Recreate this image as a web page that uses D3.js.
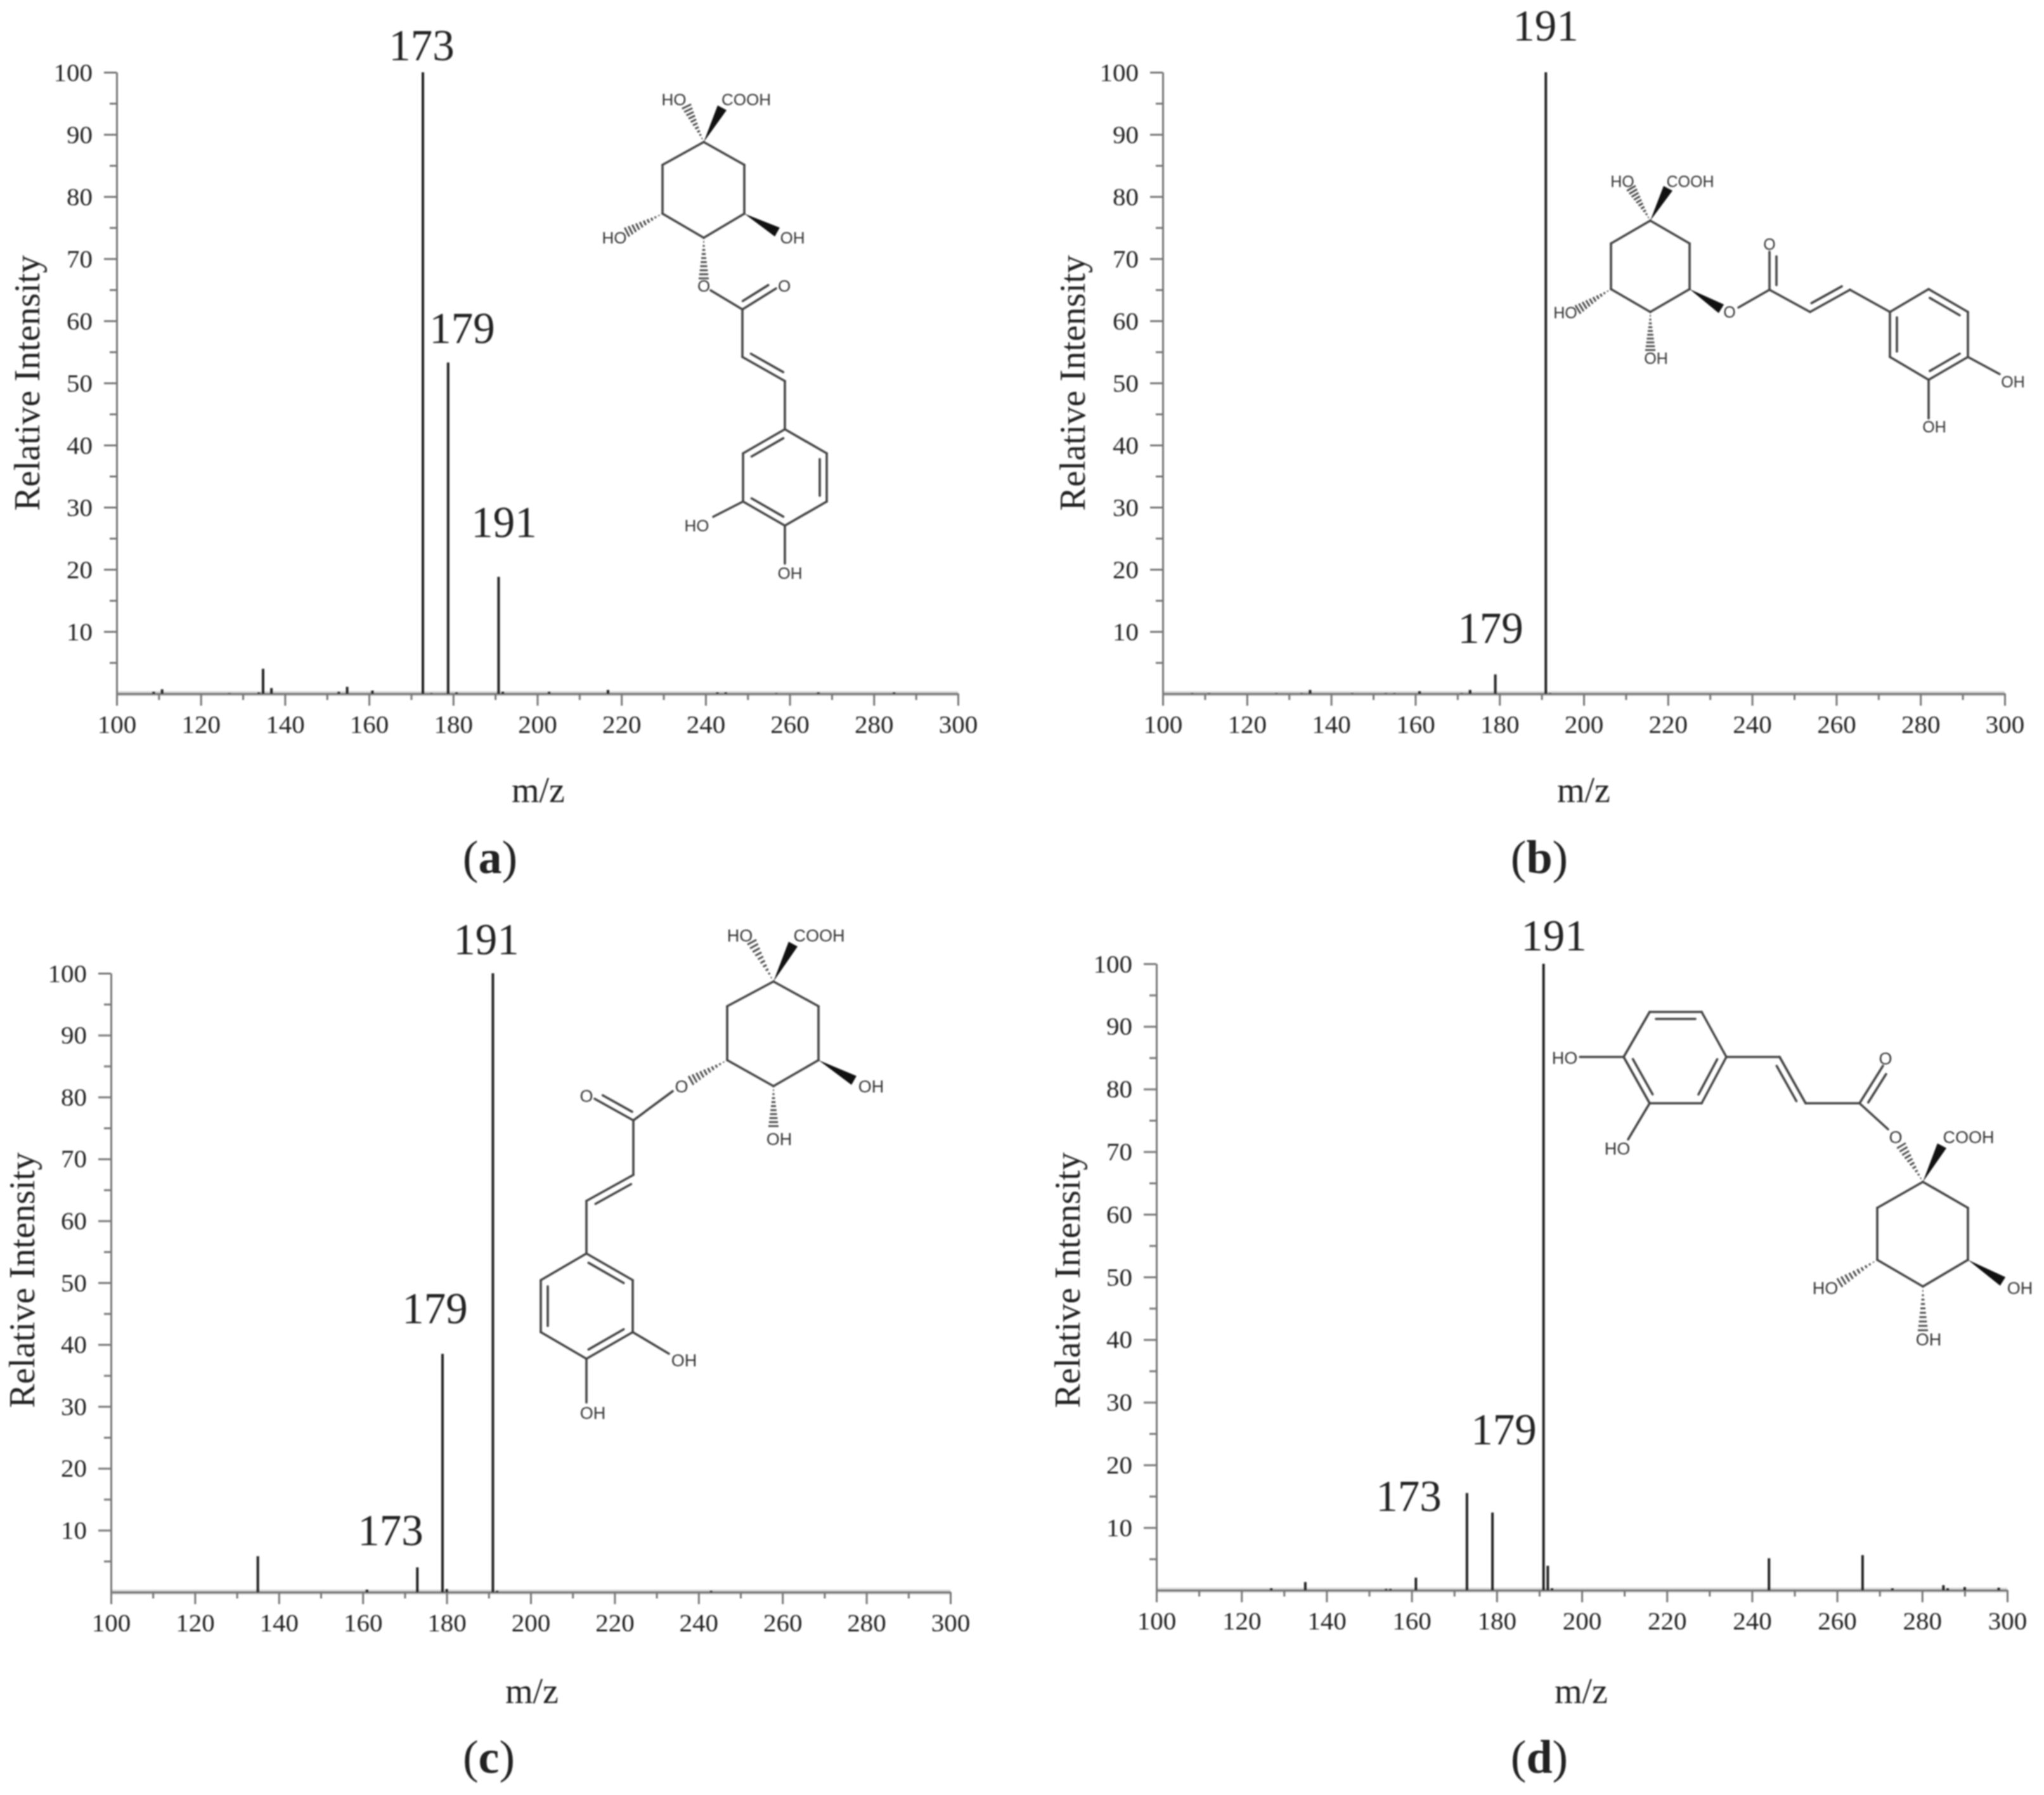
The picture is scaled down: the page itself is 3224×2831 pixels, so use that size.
<!DOCTYPE html>
<html>
<head>
<meta charset="utf-8">
<script src="https://cdn.jsdelivr.net/npm/d3@7"></script>
<style>
  body { margin: 0; background: #fff; }
  svg { display: block; filter: blur(0.9px); }
  text { font-family: "Liberation Serif", serif; fill: #222; }
  .mol text { font-family: "Liberation Sans", sans-serif; fill: #333; }
</style>
</head>
<body>
<svg id="chart" width="3224" height="2831"></svg>
<script>
// peak lists: [m/z, relative intensity]
var peaksA = [[108.8,0.3],[110.8,0.7],[126.8,0.1],[133.8,0.2],[134.8,4.0],[136.8,0.9],[152.8,0.3],[154.8,1.1],[160.8,0.5],
              [172.8,100],[174.8,0.1],[178.8,53.3],[180.8,0.2],[190.8,18.8],[191.8,0.3],[202.8,0.3],[216.8,0.6],[242.8,0.2],
              [244.8,0.2],[256.8,0.1],[266.8,0.2],[284.8,0.2]];
var peaksB = [[107,0.1],[111,0.1],[127,0.1],[133,0.1],[135,0.6],[145,0.1],[153,0.1],[155,0.1],[161,0.4],
              [171,0.1],[173,0.6],[179,3.1],[191,100],[192,0.1]];
var peaksC = [[135,5.8],[161,0.4],[173,4.0],[179,38.5],[180,0.5],[191,100],[192,0.2],[243,0.2]];
var peaksD = [[127,0.3],[135,1.3],[154,0.2],[155,0.2],[161,2.0],[173,15.5],[179,12.4],[191,100],[192,3.9],
              [193,0.3],[244,5.1],[266,5.6],[273,0.3],[285,0.8],[286,0.3],[290,0.5],[298,0.4]];

var xMajor = d3.range(100, 301, 20);
var xMinor = d3.range(110, 300, 20);
var yMajor = d3.range(10, 101, 10);
var yMinor = d3.range(5, 100, 10);

// panel frames, in page pixels
var panels = [
  {peaks: peaksA, x: [184, 1511], y: [1094, 114], xTitle: [849, 1248], yTitle: [45, 604], tag: "a", tagPos: [773, 1355],
   labels: [["173", 665, 72], ["179", 729, 518], ["191", 795, 824]]},
  {peaks: peaksB, x: [1834, 3162], y: [1094, 114], xTitle: [2498, 1248], yTitle: [1694, 604], tag: "b", tagPos: [2428, 1355],
   labels: [["191", 2438, 41], ["179", 2351, 991]]},
  {peaks: peaksC, x: [175, 1499], y: [2511, 1535], xTitle: [839, 2669], yTitle: [37, 2019], tag: "c", tagPos: [771, 2774],
   labels: [["191", 767, 1482], ["179", 686, 2064], ["173", 616, 2414]]},
  {peaks: peaksD, x: [1824, 3166], y: [2508, 1520], xTitle: [2494, 2669], yTitle: [1686, 2019], tag: "d", tagPos: [2428, 2774],
   labels: [["191", 2451, 1476], ["179", 2372, 2255], ["173", 2222, 2360]]}
];

// structures: bonds as x1,y1,x2,y2 in page pixels, doubles also carry the side the second line goes to
var molA = {
  size: 26,
  single: [[1110,224,1174,260],[1174,260,1174,337],[1174,337,1110,375],[1110,375,1045,337],[1045,337,1045,260],[1045,260,1110,224],
           [1121,458,1171,488],[1171,488,1171,563],[1238,601,1238,677],[1304,715,1238,677],[1304,791,1238,829],
           [1172,791,1172,715],[1125,815,1172,791],[1238,829,1238,889]],
  double: [[1171,488,1224,455,1160,450],[1171,563,1238,601,1240,560],[1238,677,1172,715,1238,753],
           [1304,715,1304,791,1238,753],[1238,829,1172,791,1238,753]],
  wedge: [[1110,224,1139,170],[1174,337,1226,366]],
  hash: [[1110,224,1083,168],[1045,337,989,366],[1110,375,1110,439]],
  text: [["HO",1063,157],["COOH",1177,157],["OH",1250,375],["HO",969,375],["O",1110,451],["O",1237,451],["HO",1099,829],["OH",1246,904]]
};
var molB = {
  size: 25,
  single: [[2603,348,2665,384],[2665,384,2665,456],[2665,456,2603,492],[2603,492,2541,456],[2541,456,2541,384],[2541,384,2603,348],
           [2742,485,2791,457],[2791,457,2855,492],[2918,457,2981,492],[2981,492,3042,456],[3104,492,3104,563],
           [3042,599,2981,563],[3104,563,3154,590],[3042,599,3042,660]],
  double: [[2791,457,2791,397,2815,420],[2855,492,2918,457,2860,450],[3042,456,3104,492,3042,525],
           [2981,492,2981,563,3042,525],[3104,563,3042,599,3042,525]],
  wedge: [[2603,348,2631,297],[2665,456,2715,487]],
  hash: [[2603,348,2573,297],[2541,456,2489,488],[2603,492,2603,552]],
  text: [["HO",2559,286],["COOH",2666,286],["HO",2469,493],["OH",2612,565],["O",2728,492],["O",2791,385],["OH",3175,602],["OH",3051,673]]
};
var molC = {
  size: 27,
  single: [[1220,1548,1291,1587],[1291,1587,1291,1672],[1291,1672,1220,1713],[1220,1713,1147,1672],[1147,1672,1147,1587],[1147,1587,1220,1548],
           [1061,1721,999,1767],[999,1767,999,1853],[925,1894,925,1977],[925,1977,853,2019],[998,2019,998,2101],
           [925,2143,853,2101],[998,2101,1055,2135],[925,2143,925,2212]],
  double: [[999,1767,938,1733,1000,1720],[999,1853,925,1894,990,1900],[925,1977,998,2019,925,2060],
           [853,2019,853,2101,925,2060],[998,2101,925,2143,925,2060]],
  wedge: [[1220,1548,1251,1489],[1291,1672,1347,1704]],
  hash: [[1220,1548,1186,1486],[1147,1672,1090,1704],[1220,1713,1220,1776]],
  text: [["HO",1167,1475],["COOH",1292,1475],["OH",1374,1713],["OH",1229,1796],["O",1075,1713],["O",925,1728],["OH",1079,2145],["OH",935,2228]]
};
var molD = {
  size: 27,
  single: [[3033,1864,3104,1905],[3104,1905,3104,1987],[3104,1987,3033,2029],[3033,2029,2961,1987],[2961,1987,2961,1905],[2961,1905,3033,1864],
           [2978,1781,2933,1740],[2933,1740,2848,1740],[2807,1667,2723,1667],[2723,1667,2684,1596],[2602,1596,2561,1667],
           [2602,1740,2684,1740],[2492,1667,2561,1667],[2568,1797,2602,1740]],
  double: [[2933,1740,2970,1681,2990,1710],[2848,1740,2807,1667,2790,1710],[2684,1596,2602,1596,2643,1667],
           [2561,1667,2602,1740,2643,1667],[2684,1740,2723,1667,2643,1667]],
  wedge: [[3033,1864,3063,1807],[3104,1987,3159,2021]],
  hash: [[3033,1864,2999,1807],[2961,1987,2902,2023],[3033,2029,3033,2098]],
  text: [["COOH",3105,1793],["O",2990,1793],["OH",3186,2031],["HO",2879,2031],["OH",3042,2112],["O",2974,1669],["HO",2468,1668],["HO",2551,1811]]
};
var molecules = [molA, molB, molC, molD];

var svg = d3.select("#chart");

panels.forEach(function(p) {
  var x = d3.scaleLinear().domain([100, 300]).range(p.x);
  var y = d3.scaleLinear().domain([0, 100]).range(p.y);
  var g = svg.append("g");

  // soft grey smear under the baseline, as in the scan
  g.append("line")
    .attr("x1", p.x[0]).attr("x2", p.x[1])
    .attr("y1", p.y[0]).attr("y2", p.y[0])
    .attr("stroke", "#d8d8d8").attr("stroke-width", 8);

  var yAxis = d3.axisLeft(y).tickValues(yMajor).tickSize(20).tickSizeOuter(0).tickPadding(18);
  var yMinorAxis = d3.axisLeft(y).tickValues(yMinor).tickSize(11).tickSizeOuter(0).tickFormat("");
  var xAxis = d3.axisBottom(x).tickValues(xMajor).tickSize(19).tickSizeOuter(0).tickPadding(14);
  var xMinorAxis = d3.axisBottom(x).tickValues(xMinor).tickSize(10).tickSizeOuter(0).tickFormat("");

  [yMinorAxis, yAxis].forEach(function(a) {
    g.append("g").attr("class", "axis").attr("transform", "translate(" + p.x[0] + ",0)").call(a);
  });
  [xMinorAxis, xAxis].forEach(function(a) {
    g.append("g").attr("class", "axis").attr("transform", "translate(0," + p.y[0] + ")").call(a);
  });
  g.selectAll(".axis path, .axis line").attr("stroke", "#777").attr("stroke-width", 3);
  g.selectAll(".axis text").attr("font-size", 41).attr("font-family", "Liberation Serif").attr("fill", "#333");

  g.selectAll(".peak").data(p.peaks).enter()
    .append("line")
    .attr("class", "peak")
    .attr("x1", function(d) { return x(d[0]); })
    .attr("x2", function(d) { return x(d[0]); })
    .attr("y1", y(0))
    .attr("y2", function(d) { return y(d[1]); })
    .attr("stroke", "#222")
    .attr("stroke-width", 4);

  g.selectAll(".peaklabel").data(p.labels).enter()
    .append("text")
    .attr("class", "peaklabel")
    .attr("x", function(d) { return d[1]; })
    .attr("y", function(d) { return d[2]; })
    .attr("dy", ".34em")
    .attr("text-anchor", "middle")
    .attr("font-size", 69)
    .text(function(d) { return d[0]; });

  g.append("text")
    .attr("x", p.xTitle[0]).attr("y", p.xTitle[1])
    .attr("dy", ".3em")
    .attr("text-anchor", "middle")
    .attr("font-size", 56)
    .text("m/z");

  g.append("text")
    .attr("transform", "translate(" + p.yTitle[0] + "," + p.yTitle[1] + ") rotate(-90)")
    .attr("dy", ".3em")
    .attr("text-anchor", "middle")
    .attr("font-size", 57)
    .text("Relative Intensity");

  var tag = g.append("text")
    .attr("x", p.tagPos[0]).attr("y", p.tagPos[1])
    .attr("dy", ".3em")
    .attr("text-anchor", "middle")
    .attr("font-size", 74);
  tag.append("tspan").text("(");
  tag.append("tspan").attr("font-weight", "bold").text(p.tag);
  tag.append("tspan").text(")");
});

function drawMolecule(m) {
  var g = svg.append("g").attr("class", "mol");
  var ink = "#444";

  function bond(a) {
    g.append("line")
      .attr("x1", a[0]).attr("y1", a[1]).attr("x2", a[2]).attr("y2", a[3])
      .attr("stroke", ink).attr("stroke-width", 3.6).attr("stroke-linecap", "round");
  }
  m.single.forEach(bond);

  m.double.forEach(function(b) {
    bond(b);
    // second line sits on the side of the point carried by the bond
    var dx = b[2] - b[0], dy = b[3] - b[1], len = Math.hypot(dx, dy);
    var nx = -dy / len, ny = dx / len;
    if ((b[4] - b[0]) * nx + (b[5] - b[1]) * ny < 0) { nx = -nx; ny = -ny; }
    var off = 11, trim = 0.12;
    bond([b[0] + dx * trim + nx * off, b[1] + dy * trim + ny * off,
          b[2] - dx * trim + nx * off, b[3] - dy * trim + ny * off]);
  });

  m.wedge.forEach(function(w) {
    var dx = w[2] - w[0], dy = w[3] - w[1], len = Math.hypot(dx, dy);
    var nx = -dy / len * 8, ny = dx / len * 8;
    g.append("polygon")
      .attr("points", [[w[0], w[1]], [w[2] + nx, w[3] + ny], [w[2] - nx, w[3] - ny]].join(" "))
      .attr("fill", "#111");
  });

  m.hash.forEach(function(h) {
    var dx = h[2] - h[0], dy = h[3] - h[1], len = Math.hypot(dx, dy);
    var nx = -dy / len, ny = dx / len;
    d3.range(1, 11).forEach(function(i) {
      var t = i / 10, w = 8 * t;
      g.append("line")
        .attr("x1", h[0] + dx * t + nx * w).attr("y1", h[1] + dy * t + ny * w)
        .attr("x2", h[0] + dx * t - nx * w).attr("y2", h[1] + dy * t - ny * w)
        .attr("stroke", ink).attr("stroke-width", 2.8);
    });
  });

  g.selectAll("text").data(m.text).enter()
    .append("text")
    .attr("x", function(d) { return d[1]; })
    .attr("y", function(d) { return d[2]; })
    .attr("dy", ".36em")
    .attr("text-anchor", "middle")
    .attr("font-size", m.size)
    .text(function(d) { return d[0]; });
}
molecules.forEach(drawMolecule);
</script>
</body>
</html>
